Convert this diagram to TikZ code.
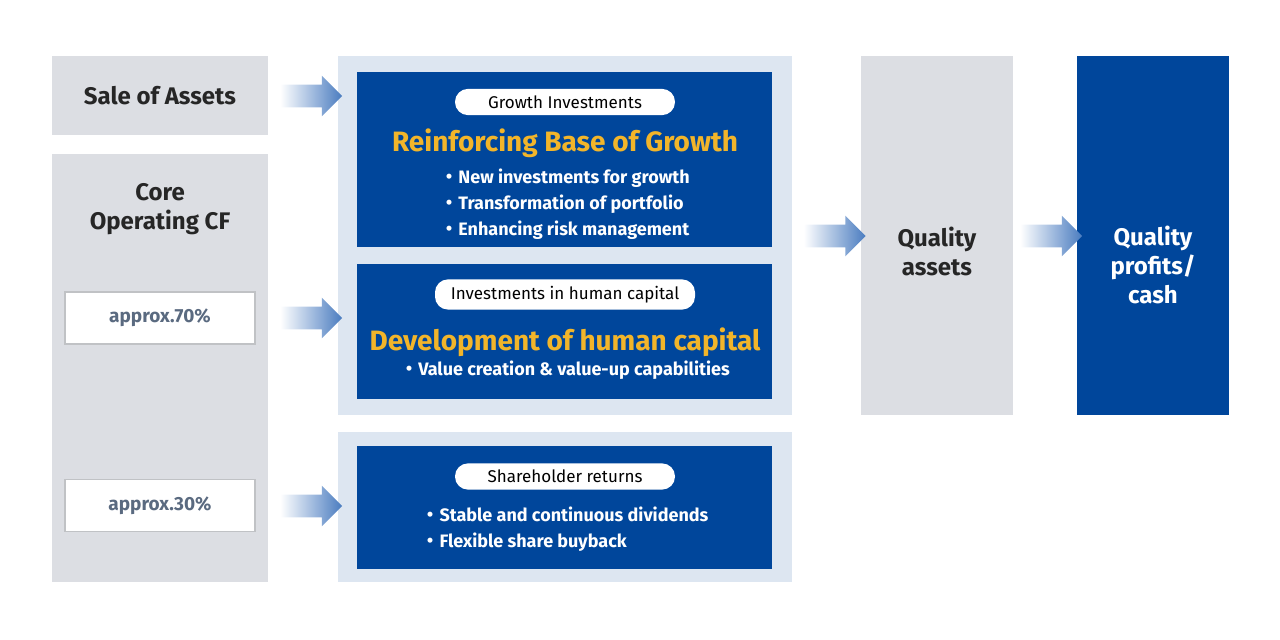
\documentclass[tikz,border=0pt]{standalone}
\usepackage{fontspec}
\setmainfont{Fira Sans}
\newfontfamily\dotfont{Noto Sans CJK JP}
\usetikzlibrary{shapes.arrows}

\definecolor{boxgray}{HTML}{DCDEE3}
\definecolor{panelblue}{HTML}{DDE6F1}
\definecolor{deepblue}{HTML}{00469B}
\definecolor{goldtxt}{HTML}{F2B52A}
\definecolor{arrowblue}{HTML}{4A7CC0}
\definecolor{pcttxt}{HTML}{5A6A80}
\newcommand{\bul}{{\dotfont ・}}

\begin{document}
\begin{tikzpicture}[x=0.5pt, y=-0.5pt]
\tikzstyle{graybox} = [rectangle, fill=boxgray, inner sep=0pt, font=\bfseries\fontsize{12}{14.5}\selectfont, text=black!85, align=center]
\tikzstyle{panel} = [rectangle, fill=panelblue, inner sep=0pt]
\tikzstyle{bluebox} = [rectangle, fill=deepblue, inner sep=0pt, text=white]
\tikzstyle{pctbox} = [rectangle, draw=boxgray!70!gray, line width=0.8pt, fill=white, minimum width=95pt, minimum height=26pt, font=\bfseries\fontsize{9.5}{11}\selectfont, text=pcttxt]
\tikzstyle{pill} = [rectangle, rounded corners=6.5pt, fill=white, minimum height=13pt, font=\fontsize{8.5}{10}\selectfont, text=black]
\tikzstyle{headline} = [font=\bfseries\fontsize{14}{16}\selectfont, text=goldtxt]
\tikzstyle{bullets} = [font=\fontsize{9}{13}\selectfont\bfseries, text=white, align=left]
\tikzstyle{flow} = [single arrow, single arrow head extend=4.5pt, single arrow tip angle=90, minimum height=31pt, text height=8pt, text depth=0pt, inner sep=1.5pt, left color=white, right color=arrowblue, draw=none]

\useasboundingbox (0,0) rectangle (1280,640);

% left column
\node [graybox, minimum width=108pt, minimum height=39.5pt] (sale) at (160,95.5) {Sale of Assets};
\node [graybox, minimum width=108pt, minimum height=214pt, anchor=north] (core) at (160,154) {};
\node [graybox] (coretitle) at (160,209) {Core\\Operating CF};
\node [pctbox] (p70) at (160,318) {approx.70\%};
\node [pctbox] (p30) at (160,505.5) {approx.30\%};

% panels
\node [panel, minimum width=227pt, minimum height=179.5pt] (panelA) at (565,235.5) {};
\node [panel, minimum width=227pt, minimum height=75pt] (panelB) at (565,507) {};

% growth
\node [bluebox, minimum width=207.5pt, minimum height=87.5pt] (growth) at (564.5,159.5) {};
\node [pill, minimum width=110pt] (growthpill) at (565,102) {Growth Investments};
\node [headline] (growthhead) at (565,143) {Reinforcing Base of Growth};
\node [bullets] (growthlist) at (565,204) {\bul New investments for growth\\\bul Transformation of portfolio\\\bul Enhancing risk management};

% human capital
\node [bluebox, minimum width=207.5pt, minimum height=67.5pt] (human) at (564.5,331.5) {};
\node [pill, minimum width=130pt] (humanpill) at (565,294.5) {Investments in human capital};
\node [headline] (humanhead) at (565,342) {Development of human capital};
\node [bullets] (humanlist) at (565,370) {\bul Value creation \& value-up capabilities};

% shareholder
\node [bluebox, minimum width=207.5pt, minimum height=61.5pt] (share) at (564.5,507.5) {};
\node [pill, minimum width=110pt] (sharepill) at (565,476.5) {Shareholder returns};
\node [bullets] (sharelist) at (565,529) {\bul Stable and continuous dividends\\\bul Flexible share buyback};

% right column
\node [graybox, minimum width=76pt, minimum height=179.5pt] (qassets) at (937,235.5) {};
\node [graybox] (qassetstxt) at (937,251) {Quality\\assets};
\node [bluebox, minimum width=76pt, minimum height=179.5pt] (qprofits) at (1153,235.5) {};
\node [font=\bfseries\fontsize{12}{14.5}\selectfont, text=white, align=center] (qprofitstxt) at (1153,265) {Quality\\profits/\\cash};

% flow arrows
\node [flow] (a1) at (305.5,96) {};
\node [flow] (a2) at (305.5,318) {};
\node [flow] (a3) at (305.5,506) {};
\node [flow] (a4) at (829,236) {};
\node [flow] (a5) at (1045.5,236) {};
\end{tikzpicture}
\end{document}
